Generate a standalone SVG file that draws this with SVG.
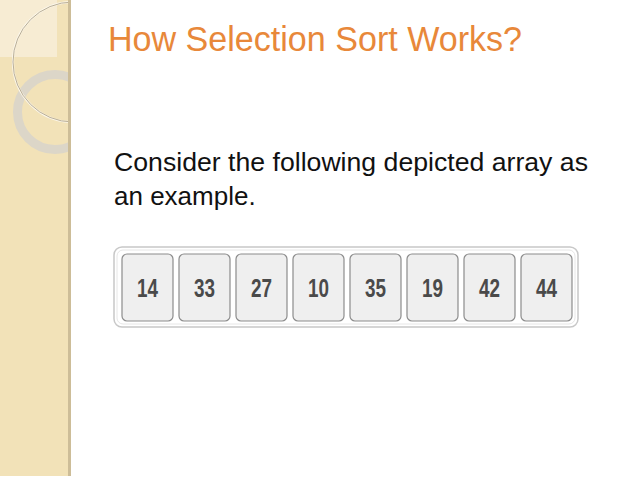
<svg xmlns="http://www.w3.org/2000/svg" width="638" height="479" viewBox="0 0 638 479">
<defs>
<style>
.cell rect{fill:#efefef;stroke:#8c8c8c;stroke-width:1.2}
.cell text{font-family:"Liberation Sans",Arial,sans-serif;font-weight:bold;font-size:25px;fill:#4a4a4a;text-anchor:middle}
.body{font-family:"Liberation Sans",Arial,sans-serif;font-size:26px;fill:#111}
</style>
<clipPath id="panel"><rect x="0" y="0" width="70" height="479"/></clipPath>
</defs>
<rect width="638" height="479" fill="#fff"/>
<g id="panel-deco">
<rect x="0" y="0" width="70" height="476" fill="#f2e2b8"/>
<g clip-path="url(#panel)">
<rect x="0" y="0" width="57" height="57" fill="#f7ecd3"/>
<circle cx="55" cy="112" r="37.5" fill="none" stroke="#dcd6c8" stroke-width="9"/>
<circle cx="73" cy="62" r="60" fill="none" stroke="#fbf6ea" stroke-width="2.2"/>
<circle cx="73" cy="62" r="60" fill="none" stroke="#a89c80" stroke-width="0.8"/>
</g>
<rect x="68" y="0" width="3" height="476" fill="#cdbd98"/>
</g>
<g id="title"><text x="108" y="51" font-family="'Liberation Sans',Arial,sans-serif" font-size="35" fill="#e8883a" textLength="414" lengthAdjust="spacingAndGlyphs">How Selection Sort Works?</text></g>
<g id="body">
<text class="body" x="114" y="171" textLength="474" lengthAdjust="spacingAndGlyphs">Consider the following depicted array as</text>
<text class="body" x="114" y="205">an example.</text>
</g>
<g id="array">
<rect x="114" y="247" width="464" height="80" rx="8" fill="#fff" stroke="#c8c8c8" stroke-width="1.5"/>
<rect x="117" y="250" width="458" height="74" rx="6" fill="none" stroke="#e6e6e6" stroke-width="1"/>
<g class="cell" id="c0"><rect x="122" y="254" width="51" height="67" rx="5"/><text x="147.5" y="297" textLength="21" lengthAdjust="spacingAndGlyphs">14</text></g>
<g class="cell" id="c1"><rect x="179" y="254" width="51" height="67" rx="5"/><text x="204.5" y="297" textLength="21" lengthAdjust="spacingAndGlyphs">33</text></g>
<g class="cell" id="c2"><rect x="236" y="254" width="51" height="67" rx="5"/><text x="261.5" y="297" textLength="21" lengthAdjust="spacingAndGlyphs">27</text></g>
<g class="cell" id="c3"><rect x="293" y="254" width="51" height="67" rx="5"/><text x="318.5" y="297" textLength="21" lengthAdjust="spacingAndGlyphs">10</text></g>
<g class="cell" id="c4"><rect x="350" y="254" width="51" height="67" rx="5"/><text x="375.5" y="297" textLength="21" lengthAdjust="spacingAndGlyphs">35</text></g>
<g class="cell" id="c5"><rect x="407" y="254" width="51" height="67" rx="5"/><text x="432.5" y="297" textLength="21" lengthAdjust="spacingAndGlyphs">19</text></g>
<g class="cell" id="c6"><rect x="464" y="254" width="51" height="67" rx="5"/><text x="489.5" y="297" textLength="21" lengthAdjust="spacingAndGlyphs">42</text></g>
<g class="cell" id="c7"><rect x="521" y="254" width="51" height="67" rx="5"/><text x="546.5" y="297" textLength="21" lengthAdjust="spacingAndGlyphs">44</text></g>
</g>
</svg>
